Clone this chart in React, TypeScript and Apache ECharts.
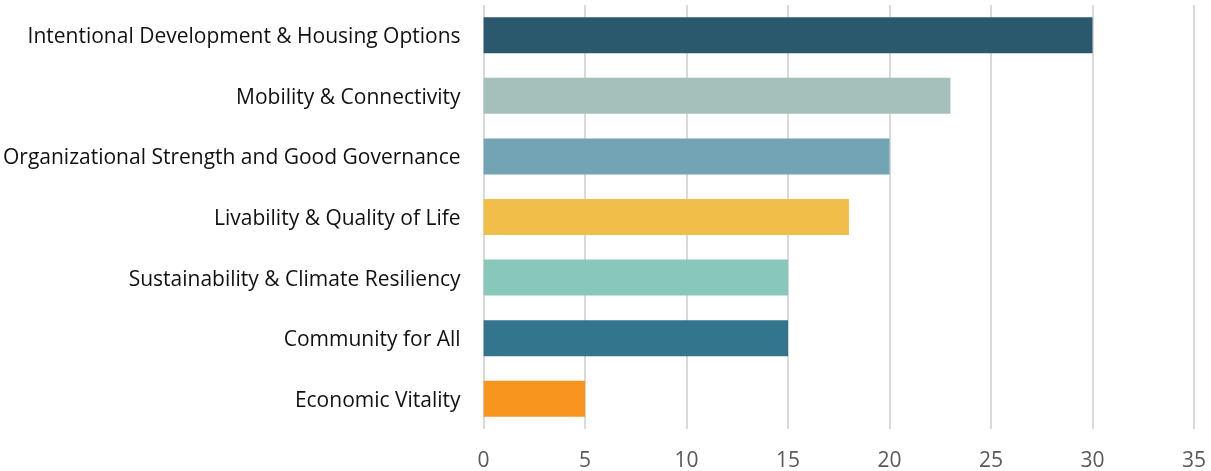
import React, { useEffect, useRef } from "react";
import * as echarts from "echarts";

const categories = [
  "Intentional Development & Housing Options",
  "Mobility & Connectivity",
  "Organizational Strength and Good Governance",
  "Livability & Quality of Life",
  "Sustainability & Climate Resiliency",
  "Community for All",
  "Economic Vitality",
];
const values = [30, 23, 20, 18, 15, 15, 5];
const colors = ["#2A586D", "#A5BFBB", "#72A4B3", "#F2BE4A", "#87C8BA", "#33758D", "#F7951F"];

export default function App() {
  const ref = useRef<HTMLDivElement>(null);
  useEffect(() => {
    const chart = echarts.init(ref.current!, null, { renderer: "svg" });
    chart.setOption({
      animation: false,
      grid: { left: 483, right: 17, top: 5, bottom: 42 },
      xAxis: {
        type: "value",
        min: 0,
        max: 35,
        interval: 5,
        axisLine: { show: false },
        axisTick: { show: false },
        splitLine: { show: true, lineStyle: { color: "#D9D9D9", width: 2 } },
        axisLabel: { color: "#595959", fontSize: 21, fontFamily: "Open Sans", margin: 19 },
      },
      yAxis: {
        type: "category",
        inverse: true,
        data: categories,
        axisLine: { show: false },
        axisTick: { show: false },
        axisLabel: { color: "#111111", fontSize: 21, fontFamily: "Open Sans", margin: 23 },
      },
      series: [
        {
          type: "bar",
          barWidth: 36,
          data: values.map((v, i) => ({ value: v, itemStyle: { color: colors[i] } })),
        },
      ],
    });
    return () => chart.dispose();
  }, []);
  return (
    <div
      ref={ref}
      style={{ position: "fixed", left: 0, top: 0, width: 1211, height: 471 }}
    />
  );
}
